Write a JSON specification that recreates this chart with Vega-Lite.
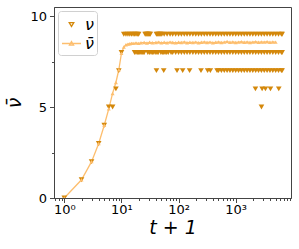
{
  "$schema": "https://vega.github.io/schema/vega-lite/v6.json",
  "width": 237,
  "height": 191,
  "autosize": "none",
  "padding": {"left": 54, "top": 7, "right": 8, "bottom": 51},
  "background": "white",
  "config": {
    "view": {"stroke": "#444", "strokeWidth": 1},
    "font": "DejaVu Sans"
  },
  "data": {
    "values": [
      {"t": 1, "v": 0, "s": "ν"}, {"t": 2, "v": 1, "s": "ν"}, {"t": 3, "v": 2, "s": "ν"}, {"t": 4, "v": 3, "s": "ν"}, {"t": 5, "v": 4, "s": "ν"},
      {"t": 6, "v": 5, "s": "ν"}, {"t": 7, "v": 5, "s": "ν"}, {"t": 8, "v": 6, "s": "ν"}, {"t": 9, "v": 7, "s": "ν"}, {"t": 10, "v": 8, "s": "ν"},
      {"t": 11, "v": 9, "s": "ν"}, {"t": 12, "v": 9, "s": "ν"}, {"t": 13, "v": 9, "s": "ν"}, {"t": 14, "v": 9, "s": "ν"}, {"t": 15, "v": 9, "s": "ν"},
      {"t": 16, "v": 9, "s": "ν"}, {"t": 17, "v": 9, "s": "ν"}, {"t": 18, "v": 9, "s": "ν"}, {"t": 19, "v": 9, "s": "ν"}, {"t": 20, "v": 9, "s": "ν"},
      {"t": 26, "v": 9, "s": "ν"}, {"t": 27, "v": 9, "s": "ν"}, {"t": 28, "v": 9, "s": "ν"}, {"t": 29, "v": 9, "s": "ν"}, {"t": 30, "v": 9, "s": "ν"},
      {"t": 31, "v": 9, "s": "ν"}, {"t": 32, "v": 9, "s": "ν"}, {"t": 41, "v": 9, "s": "ν"}, {"t": 43, "v": 9, "s": "ν"}, {"t": 45, "v": 9, "s": "ν"},
      {"t": 47, "v": 9, "s": "ν"}, {"t": 49, "v": 9, "s": "ν"}, {"t": 51, "v": 9, "s": "ν"}, {"t": 56, "v": 9, "s": "ν"}, {"t": 63, "v": 9, "s": "ν"},
      {"t": 71, "v": 9, "s": "ν"}, {"t": 79, "v": 9, "s": "ν"}, {"t": 89, "v": 9, "s": "ν"}, {"t": 100, "v": 9, "s": "ν"}, {"t": 112, "v": 9, "s": "ν"},
      {"t": 126, "v": 9, "s": "ν"}, {"t": 141, "v": 9, "s": "ν"}, {"t": 158, "v": 9, "s": "ν"}, {"t": 178, "v": 9, "s": "ν"}, {"t": 200, "v": 9, "s": "ν"},
      {"t": 224, "v": 9, "s": "ν"}, {"t": 251, "v": 9, "s": "ν"}, {"t": 282, "v": 9, "s": "ν"}, {"t": 316, "v": 9, "s": "ν"}, {"t": 355, "v": 9, "s": "ν"},
      {"t": 398, "v": 9, "s": "ν"}, {"t": 447, "v": 9, "s": "ν"}, {"t": 501, "v": 9, "s": "ν"}, {"t": 562, "v": 9, "s": "ν"}, {"t": 631, "v": 9, "s": "ν"},
      {"t": 708, "v": 9, "s": "ν"}, {"t": 794, "v": 9, "s": "ν"}, {"t": 891, "v": 9, "s": "ν"}, {"t": 1000, "v": 9, "s": "ν"}, {"t": 1122, "v": 9, "s": "ν"},
      {"t": 1259, "v": 9, "s": "ν"}, {"t": 1413, "v": 9, "s": "ν"}, {"t": 1585, "v": 9, "s": "ν"}, {"t": 1778, "v": 9, "s": "ν"}, {"t": 1995, "v": 9, "s": "ν"},
      {"t": 2239, "v": 9, "s": "ν"}, {"t": 2512, "v": 9, "s": "ν"}, {"t": 2818, "v": 9, "s": "ν"}, {"t": 3162, "v": 9, "s": "ν"}, {"t": 3548, "v": 9, "s": "ν"},
      {"t": 3981, "v": 9, "s": "ν"}, {"t": 4467, "v": 9, "s": "ν"}, {"t": 5012, "v": 9, "s": "ν"}, {"t": 5623, "v": 9, "s": "ν"}, {"t": 6310, "v": 9, "s": "ν"},
      {"t": 6500, "v": 9, "s": "ν"},
      {"t": 17, "v": 8, "s": "ν"}, {"t": 18, "v": 8, "s": "ν"}, {"t": 19, "v": 8, "s": "ν"}, {"t": 20, "v": 8, "s": "ν"}, {"t": 21, "v": 8, "s": "ν"},
      {"t": 22, "v": 8, "s": "ν"}, {"t": 23, "v": 8, "s": "ν"}, {"t": 24, "v": 8, "s": "ν"}, {"t": 25, "v": 8, "s": "ν"}, {"t": 29, "v": 8, "s": "ν"},
      {"t": 31, "v": 8, "s": "ν"}, {"t": 33, "v": 8, "s": "ν"}, {"t": 35, "v": 8, "s": "ν"}, {"t": 37, "v": 8, "s": "ν"}, {"t": 40, "v": 8, "s": "ν"},
      {"t": 42, "v": 8, "s": "ν"}, {"t": 44, "v": 8, "s": "ν"}, {"t": 49, "v": 8, "s": "ν"}, {"t": 52, "v": 8, "s": "ν"}, {"t": 55, "v": 8, "s": "ν"},
      {"t": 58, "v": 8, "s": "ν"}, {"t": 62, "v": 8, "s": "ν"}, {"t": 66, "v": 8, "s": "ν"}, {"t": 74, "v": 8, "s": "ν"}, {"t": 79, "v": 8, "s": "ν"},
      {"t": 89, "v": 8, "s": "ν"}, {"t": 100, "v": 8, "s": "ν"}, {"t": 112, "v": 8, "s": "ν"}, {"t": 126, "v": 8, "s": "ν"}, {"t": 141, "v": 8, "s": "ν"},
      {"t": 158, "v": 8, "s": "ν"}, {"t": 178, "v": 8, "s": "ν"}, {"t": 200, "v": 8, "s": "ν"}, {"t": 224, "v": 8, "s": "ν"}, {"t": 251, "v": 8, "s": "ν"},
      {"t": 282, "v": 8, "s": "ν"}, {"t": 316, "v": 8, "s": "ν"}, {"t": 355, "v": 8, "s": "ν"}, {"t": 398, "v": 8, "s": "ν"}, {"t": 447, "v": 8, "s": "ν"},
      {"t": 501, "v": 8, "s": "ν"}, {"t": 562, "v": 8, "s": "ν"}, {"t": 631, "v": 8, "s": "ν"}, {"t": 708, "v": 8, "s": "ν"}, {"t": 794, "v": 8, "s": "ν"},
      {"t": 891, "v": 8, "s": "ν"}, {"t": 1000, "v": 8, "s": "ν"}, {"t": 1122, "v": 8, "s": "ν"}, {"t": 1259, "v": 8, "s": "ν"}, {"t": 1413, "v": 8, "s": "ν"},
      {"t": 1585, "v": 8, "s": "ν"}, {"t": 1778, "v": 8, "s": "ν"}, {"t": 1995, "v": 8, "s": "ν"}, {"t": 2239, "v": 8, "s": "ν"}, {"t": 2512, "v": 8, "s": "ν"},
      {"t": 2818, "v": 8, "s": "ν"}, {"t": 3162, "v": 8, "s": "ν"}, {"t": 3548, "v": 8, "s": "ν"}, {"t": 3981, "v": 8, "s": "ν"}, {"t": 4467, "v": 8, "s": "ν"},
      {"t": 5012, "v": 8, "s": "ν"}, {"t": 5623, "v": 8, "s": "ν"}, {"t": 6310, "v": 8, "s": "ν"}, {"t": 6500, "v": 8, "s": "ν"},
      {"t": 41, "v": 7, "s": "ν"}, {"t": 55, "v": 7, "s": "ν"}, {"t": 94, "v": 7, "s": "ν"}, {"t": 118, "v": 7, "s": "ν"}, {"t": 156, "v": 7, "s": "ν"},
      {"t": 247, "v": 7, "s": "ν"}, {"t": 323, "v": 7, "s": "ν"}, {"t": 360, "v": 7, "s": "ν"}, {"t": 472, "v": 7, "s": "ν"}, {"t": 501, "v": 7, "s": "ν"},
      {"t": 562, "v": 7, "s": "ν"}, {"t": 631, "v": 7, "s": "ν"}, {"t": 708, "v": 7, "s": "ν"}, {"t": 794, "v": 7, "s": "ν"}, {"t": 891, "v": 7, "s": "ν"},
      {"t": 1000, "v": 7, "s": "ν"}, {"t": 1122, "v": 7, "s": "ν"}, {"t": 1259, "v": 7, "s": "ν"}, {"t": 1413, "v": 7, "s": "ν"}, {"t": 1585, "v": 7, "s": "ν"},
      {"t": 1778, "v": 7, "s": "ν"}, {"t": 1995, "v": 7, "s": "ν"}, {"t": 2239, "v": 7, "s": "ν"}, {"t": 2512, "v": 7, "s": "ν"}, {"t": 2818, "v": 7, "s": "ν"},
      {"t": 3162, "v": 7, "s": "ν"}, {"t": 3548, "v": 7, "s": "ν"}, {"t": 3981, "v": 7, "s": "ν"}, {"t": 4467, "v": 7, "s": "ν"}, {"t": 5012, "v": 7, "s": "ν"},
      {"t": 5623, "v": 7, "s": "ν"}, {"t": 6310, "v": 7, "s": "ν"}, {"t": 6500, "v": 7, "s": "ν"},
      {"t": 2218, "v": 6, "s": "ν"}, {"t": 2904, "v": 6, "s": "ν"}, {"t": 3319, "v": 6, "s": "ν"}, {"t": 4064, "v": 6, "s": "ν"}, {"t": 5680, "v": 6, "s": "ν"},
      {"t": 2826, "v": 5, "s": "ν"},
      {"t": 1, "v": 0, "s": "ν̄"}, {"t": 2, "v": 1, "s": "ν̄"}, {"t": 3, "v": 2, "s": "ν̄"}, {"t": 4, "v": 3, "s": "ν̄"}, {"t": 5, "v": 4, "s": "ν̄"},
      {"t": 6, "v": 4.9, "s": "ν̄"}, {"t": 7, "v": 5.75, "s": "ν̄"}, {"t": 8, "v": 6.35, "s": "ν̄"}, {"t": 9, "v": 7.05, "s": "ν̄"}, {"t": 10, "v": 7.95, "s": "ν̄"},
      {"t": 11, "v": 8.3, "s": "ν̄"}, {"t": 12, "v": 8.42, "s": "ν̄"}, {"t": 13, "v": 8.46, "s": "ν̄"}, {"t": 14, "v": 8.48, "s": "ν̄"}, {"t": 15, "v": 8.5, "s": "ν̄"},
      {"t": 16, "v": 8.5, "s": "ν̄"}, {"t": 18, "v": 8.52, "s": "ν̄"}, {"t": 20, "v": 8.5, "s": "ν̄"}, {"t": 22, "v": 8.53, "s": "ν̄"}, {"t": 25, "v": 8.55, "s": "ν̄"},
      {"t": 28, "v": 8.52, "s": "ν̄"}, {"t": 31, "v": 8.56, "s": "ν̄"}, {"t": 35, "v": 8.54, "s": "ν̄"}, {"t": 40, "v": 8.55, "s": "ν̄"}, {"t": 45, "v": 8.57, "s": "ν̄"},
      {"t": 50, "v": 8.53, "s": "ν̄"}, {"t": 56, "v": 8.56, "s": "ν̄"}, {"t": 63, "v": 8.54, "s": "ν̄"}, {"t": 71, "v": 8.57, "s": "ν̄"}, {"t": 79, "v": 8.55, "s": "ν̄"},
      {"t": 89, "v": 8.53, "s": "ν̄"}, {"t": 100, "v": 8.56, "s": "ν̄"}, {"t": 112, "v": 8.55, "s": "ν̄"}, {"t": 126, "v": 8.58, "s": "ν̄"}, {"t": 141, "v": 8.54, "s": "ν̄"},
      {"t": 158, "v": 8.56, "s": "ν̄"}, {"t": 178, "v": 8.55, "s": "ν̄"}, {"t": 200, "v": 8.57, "s": "ν̄"}, {"t": 224, "v": 8.54, "s": "ν̄"}, {"t": 251, "v": 8.56, "s": "ν̄"},
      {"t": 282, "v": 8.58, "s": "ν̄"}, {"t": 316, "v": 8.55, "s": "ν̄"}, {"t": 355, "v": 8.57, "s": "ν̄"}, {"t": 398, "v": 8.54, "s": "ν̄"}, {"t": 447, "v": 8.56, "s": "ν̄"},
      {"t": 501, "v": 8.58, "s": "ν̄"}, {"t": 562, "v": 8.55, "s": "ν̄"}, {"t": 631, "v": 8.57, "s": "ν̄"}, {"t": 708, "v": 8.6, "s": "ν̄"}, {"t": 794, "v": 8.56, "s": "ν̄"},
      {"t": 891, "v": 8.58, "s": "ν̄"}, {"t": 1000, "v": 8.55, "s": "ν̄"}, {"t": 1122, "v": 8.57, "s": "ν̄"}, {"t": 1259, "v": 8.59, "s": "ν̄"}, {"t": 1413, "v": 8.56, "s": "ν̄"},
      {"t": 1585, "v": 8.58, "s": "ν̄"}, {"t": 1778, "v": 8.55, "s": "ν̄"}, {"t": 1995, "v": 8.57, "s": "ν̄"}, {"t": 2239, "v": 8.59, "s": "ν̄"}, {"t": 2512, "v": 8.56, "s": "ν̄"},
      {"t": 2818, "v": 8.58, "s": "ν̄"}, {"t": 3162, "v": 8.57, "s": "ν̄"}, {"t": 3548, "v": 8.59, "s": "ν̄"}, {"t": 3981, "v": 8.56, "s": "ν̄"}, {"t": 4467, "v": 8.58, "s": "ν̄"},
      {"t": 5012, "v": 8.57, "s": "ν̄"}
    ]
  },
  "encoding": {
    "x": {
      "field": "t", "type": "quantitative",
      "scale": {"type": "log", "domain": [0.66, 9300], "nice": false},
      "axis": {
        "title": "t + 1",
        "titleFont": "DejaVu Sans", "titleFontSize": 19, "titleFontStyle": "italic", "titleFontWeight": "normal", "titleColor": "black", "titlePadding": 2,
        "values": [0.7, 0.8, 0.9, 1, 2, 3, 4, 5, 6, 7, 8, 9, 10, 20, 30, 40, 50, 60, 70, 80, 90, 100, 200, 300, 400, 500, 600, 700, 800, 900, 1000, 2000, 3000, 4000, 5000, 6000, 7000, 8000, 9000],
        "labelExpr": "datum.value == 1 ? '10⁰' : datum.value == 10 ? '10¹' : datum.value == 100 ? '10²' : datum.value == 1000 ? '10³' : ''",
        "labelFont": "DejaVu Sans", "labelFontSize": 13, "labelColor": "black", "labelPadding": 1, "labelFlush": false, "labelOverlap": false,
        "tickSize": {"condition": {"test": "datum.value == 1 || datum.value == 10 || datum.value == 100 || datum.value == 1000", "value": 4.5}, "value": 2.5},
        "tickColor": "#333", "tickWidth": 0.9, "domainColor": "#444", "domainWidth": 1, "grid": false
      }
    },
    "y": {
      "field": "v", "type": "quantitative",
      "scale": {"domain": [0, 10.5], "nice": false, "zero": false},
      "axis": {
        "title": "ν̄",
        "titleFont": "DejaVu Sans", "titleFontSize": 19, "titleFontStyle": "italic", "titleFontWeight": "normal", "titleColor": "black", "titlePadding": 5,
        "values": [0, 2.5, 5, 7.5, 10],
        "labelExpr": "datum.value % 5 == 0 ? format(datum.value, 'd') : ''",
        "labelFont": "DejaVu Sans", "labelFontSize": 13, "labelColor": "black", "labelPadding": 3, "labelFlush": false, "labelOverlap": false,
        "tickSize": {"condition": {"test": "datum.value % 5 == 0", "value": 4.5}, "value": 2.5},
        "tickColor": "#333", "tickWidth": 0.9, "domainColor": "#444", "domainWidth": 1, "grid": false
      }
    }
  },
  "layer": [
    {
      "mark": {"type": "point", "filled": true, "opacity": 0, "strokeWidth": 0},
      "encoding": {
        "color": {
          "field": "s", "type": "nominal",
          "scale": {"domain": ["ν", "ν̄"], "range": ["#d4880b", "#fdbe6e"]},
          "legend": {
            "title": null, "orient": "top-left", "offset": 4,
            "labelFont": "DejaVu Sans", "labelFontSize": 16, "labelFontStyle": "italic", "labelColor": "black",
            "symbolSize": 361, "symbolOpacity": 1, "symbolStrokeWidth": 1.3,
            "rowPadding": 0, "padding": 3, "labelOffset": 3,
            "strokeColor": "#d0d0d0", "fillColor": "white", "cornerRadius": 3
          }
        },
        "stroke": {
          "field": "s", "type": "nominal",
          "scale": {"domain": ["ν", "ν̄"], "range": ["#d4880b", "#fdbe6e"]}
        },
        "shape": {
          "field": "s", "type": "nominal",
          "scale": {"domain": ["ν", "ν̄"], "range": ["M-0.24,-0.2H0.24L0,0.2Z", "M-1,0H1M0,-0.2L0.22,0.18H-0.22Z"]}
        }
      }
    },
    {
      "transform": [{"filter": "datum.s == 'ν̄'"}],
      "mark": {"type": "line", "color": "#fdbe6e", "strokeWidth": 1.3, "clip": true}
    },
    {
      "transform": [{"filter": "datum.s == 'ν'"}],
      "mark": {"type": "point", "filled": true, "opacity": 1, "strokeWidth": 0, "shape": "triangle-down", "size": 32, "color": "#d4880b", "clip": true}
    },
    {
      "transform": [{"filter": "datum.s == 'ν̄'"}],
      "mark": {"type": "point", "filled": true, "opacity": 1, "strokeWidth": 0, "shape": "triangle-up", "size": 16, "color": "#fdbe6e", "clip": true}
    }
  ]
}
